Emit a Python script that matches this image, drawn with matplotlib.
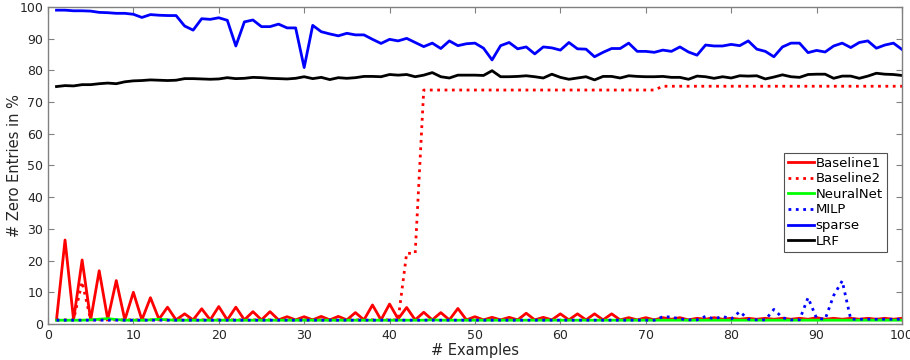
import numpy as np
import matplotlib
matplotlib.use("Agg")
import matplotlib.pyplot as plt

examples = np.arange(1, 101)

baseline1 = [
    1.3, 26.5, 1.3, 20.2, 1.3, 16.8, 1.5, 13.7, 1.3, 10.0,
    1.3, 8.3, 1.5, 5.3, 1.3, 3.2, 1.3, 4.8, 1.3, 5.5,
    1.3, 5.3, 1.3, 3.9, 1.3, 3.9, 1.3, 2.3, 1.3, 2.3,
    1.3, 2.4, 1.3, 2.4, 1.3, 3.6, 1.3, 6.0, 1.3, 6.3,
    1.6, 5.2, 1.3, 3.7, 1.3, 3.6, 1.3, 4.9, 1.3, 2.3,
    1.3, 2.1, 1.3, 2.1, 1.3, 3.4, 1.3, 2.1, 1.3, 3.2,
    1.3, 3.2, 1.3, 3.2, 1.3, 3.2, 1.3, 2.0, 1.3, 2.0,
    1.3, 2.0, 1.5, 2.0, 1.3, 1.8, 1.5, 2.0, 1.5, 1.8,
    1.5, 1.8, 1.5, 1.8, 1.5, 1.8, 1.5, 1.8, 1.5, 2.0,
    1.5, 1.8, 1.5, 1.8, 1.5, 1.8, 1.5, 1.8, 1.5, 1.8,
]

baseline2 = [
    1.3, 1.3, 1.3, 13.3, 1.3, 1.3, 1.3, 1.3, 1.3, 1.3,
    1.3, 1.3, 1.3, 1.3, 1.3, 1.3, 1.3, 1.3, 1.3, 1.3,
    1.3, 1.3, 1.3, 1.3, 1.3, 1.3, 1.3, 1.3, 1.3, 1.3,
    1.3, 1.3, 1.3, 1.3, 1.3, 1.3, 1.3, 1.3, 1.3, 1.3,
    1.3, 22.3, 22.3, 73.8, 73.8, 73.8, 73.8, 73.8, 73.8, 73.8,
    73.8, 73.8, 73.8, 73.8, 73.8, 73.8, 73.8, 73.8, 73.8, 73.8,
    73.8, 73.8, 73.8, 73.8, 73.8, 73.8, 73.8, 73.8, 73.8, 73.8,
    73.8, 75.0, 75.0, 75.0, 75.0, 75.0, 75.0, 75.0, 75.0, 75.0,
    75.0, 75.0, 75.0, 75.0, 75.0, 75.0, 75.0, 75.0, 75.0, 75.0,
    75.0, 75.0, 75.0, 75.0, 75.0, 75.0, 75.0, 75.0, 75.0, 75.0,
]

neuralnet = [
    1.2, 1.2, 1.2, 1.2, 1.3, 1.5, 1.7, 1.4, 1.2, 1.2,
    1.2, 1.3, 1.5, 1.3, 1.2, 1.2, 1.2, 1.2, 1.2, 1.2,
    1.2, 1.2, 1.2, 1.2, 1.2, 1.2, 1.2, 1.2, 1.2, 1.2,
    1.2, 1.2, 1.2, 1.2, 1.2, 1.2, 1.2, 1.2, 1.2, 1.2,
    1.2, 1.2, 1.2, 1.2, 1.3, 1.2, 1.2, 1.2, 1.2, 1.2,
    1.2, 1.2, 1.2, 1.2, 1.2, 1.2, 1.2, 1.2, 1.2, 1.2,
    1.2, 1.2, 1.2, 1.2, 1.2, 1.2, 1.2, 1.2, 1.2, 1.2,
    1.2, 1.2, 1.2, 1.2, 1.2, 1.2, 1.2, 1.2, 1.2, 1.2,
    1.2, 1.2, 1.2, 1.2, 1.2, 1.2, 1.2, 1.2, 1.2, 1.2,
    1.2, 1.2, 1.2, 1.2, 1.2, 1.2, 1.2, 1.2, 1.2, 1.2,
]

milp = [
    1.2, 1.2, 1.2, 1.2, 1.2, 1.2, 1.2, 1.2, 1.2, 1.2,
    1.2, 1.2, 1.2, 1.2, 1.2, 1.2, 1.2, 1.2, 1.2, 1.2,
    1.2, 1.2, 1.2, 1.2, 1.2, 1.2, 1.2, 1.2, 1.2, 1.2,
    1.2, 1.2, 1.2, 1.2, 1.2, 1.2, 1.2, 1.2, 1.2, 1.2,
    1.2, 1.2, 1.2, 1.2, 1.2, 1.2, 1.2, 1.2, 1.2, 1.2,
    1.2, 1.2, 1.2, 1.2, 1.2, 1.2, 1.2, 1.2, 1.2, 1.2,
    1.2, 1.2, 1.2, 1.2, 1.2, 1.2, 1.2, 1.2, 1.2, 1.2,
    1.2, 2.3, 2.2, 1.6, 1.3, 1.3, 2.4, 1.6, 2.4, 1.6,
    3.9, 1.5, 1.3, 1.3, 4.6, 2.0, 1.3, 1.3, 8.3, 1.8,
    1.5, 9.0, 13.6, 1.5, 1.5, 1.5, 1.5, 1.5, 1.5, 1.5,
]

sparse = [
    99.0, 99.0, 98.8, 98.8, 98.7, 98.3, 98.2, 98.0, 98.0, 97.7,
    96.7, 97.6, 97.4, 97.3, 97.3, 94.0, 92.7, 96.3, 96.1, 96.6,
    95.8, 87.7, 95.3, 95.9, 93.8, 93.8, 94.6, 93.4, 93.4, 80.9,
    94.2, 92.2, 91.5, 90.9, 91.7, 91.2, 91.2, 89.8, 88.5, 89.8,
    89.3, 90.1, 88.8, 87.5, 88.6, 86.9, 89.3, 87.8, 88.4, 88.6,
    87.0, 83.3, 87.8, 88.8, 86.8, 87.4, 85.2, 87.4, 87.1, 86.4,
    88.8, 86.8, 86.7, 84.3, 85.7, 86.9, 86.9, 88.6, 86.0, 86.0,
    85.7, 86.4, 86.0, 87.4, 85.8, 84.8, 88.0, 87.7, 87.7, 88.2,
    87.8, 89.3, 86.7, 86.0, 84.3, 87.4, 88.6, 88.6, 85.6, 86.3,
    85.8, 87.7, 88.6, 87.2, 88.8, 89.3, 87.0, 88.0, 88.6, 86.6,
]

lrf = [
    74.9, 75.2, 75.1, 75.5, 75.5, 75.8, 76.0, 75.8, 76.4, 76.7,
    76.8, 77.0, 76.9, 76.8, 76.9, 77.4, 77.4, 77.3, 77.2, 77.3,
    77.7, 77.4, 77.5, 77.8, 77.7, 77.5, 77.4, 77.3, 77.5, 78.0,
    77.4, 77.8, 77.1, 77.7, 77.5, 77.7, 78.1, 78.1, 78.0, 78.7,
    78.5, 78.7, 78.0, 78.5, 79.3, 78.0, 77.6, 78.5, 78.5, 78.5,
    78.4, 79.9, 78.0, 78.0, 78.1, 78.3, 78.0, 77.6, 78.8, 77.8,
    77.2, 77.6, 78.0, 77.0, 78.1, 78.1, 77.6, 78.3, 78.1, 78.0,
    78.0, 78.1, 77.8, 77.8, 77.2, 78.2, 78.0, 77.5, 78.0, 77.6,
    78.3, 78.2, 78.3, 77.3, 77.9, 78.6, 78.0, 77.8, 78.7, 78.8,
    78.8, 77.5, 78.2, 78.2, 77.5, 78.2, 79.1, 78.8, 78.7, 78.4,
]

series = [
    ("Baseline1", baseline1, "#ff0000", "-"),
    ("Baseline2", baseline2, "#ff0000", ":"),
    ("NeuralNet", neuralnet, "#00ff00", "-"),
    ("MILP", milp, "#0000ff", ":"),
    ("sparse", sparse, "#0000ff", "-"),
    ("LRF", lrf, "#000000", "-"),
]

fig = plt.figure(figsize=(9.1, 3.6), dpi=100)
ax = fig.add_axes([0.0527, 0.1, 0.9385, 0.8806])

for name, vals, color, ls in series:
    ax.plot(examples, vals, color=color, linestyle=ls, linewidth=2, label=name)

grey = "#808080"
ax.set_xlim(0, 100)
ax.set_ylim(0, 100)
ax.set_xticks(np.arange(0, 101, 10))
ax.set_yticks(np.arange(0, 101, 10))
ax.tick_params(direction="in", length=4, color=grey, labelcolor="#262626",
               labelsize=9, top=True, right=True)
for sp in ax.spines.values():
    sp.set_color(grey)
    sp.set_linewidth(1)

ax.set_xlabel("# Examples", fontsize=10.5, color="#262626", labelpad=1)
ax.set_ylabel("# Zero Entries in %", fontsize=10.5, color="#262626")
ax.yaxis.set_label_coords(-0.03, 0.5)

leg = ax.legend(loc="lower right", bbox_to_anchor=(0.982, 0.228),
                fontsize=9.5, frameon=True, fancybox=False,
                handlelength=2.0, handletextpad=0.1, borderpad=0.3,
                labelspacing=0.2, borderaxespad=0)
leg.get_frame().set_edgecolor("#262626")
leg.get_frame().set_linewidth(0.8)

fig.savefig("out.png", dpi=100)
